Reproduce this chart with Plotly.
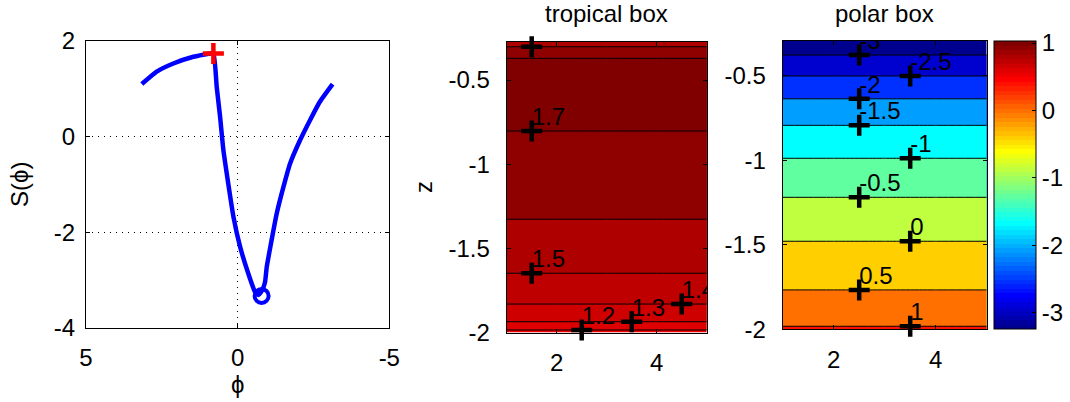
import plotly.graph_objects as go

# ---------------- data ----------------
# left panel: S(phi) trajectory
phi = [3.16, 2.67, 2.12, 1.46, 0.91, 0.80, 0.69, 0.58, 0.47, 0.31, 0.14, -0.08,
       -0.35, -0.57, -0.68, -0.80, -0.90, -0.96, -1.12, -1.29, -1.51, -1.73,
       -2.06, -2.39, -2.71, -3.13]
S_phi = [1.10, 1.36, 1.53, 1.67, 1.74, 1.75, 1.04, 0.42, -0.28, -0.98, -1.67, -2.30,
         -2.86, -3.24, -3.31, -3.22, -3.05, -2.72, -2.16, -1.60, -1.05, -0.56,
         -0.07, 0.35, 0.73, 1.10]
cross_phi, cross_S = [0.80], [1.74]
circle_phi, circle_S = [-0.79], [-3.33]

# box grids (x horizontal, z depth)
x_grid = [1, 2, 3, 4, 5]
trop_z = [-2.000, -1.985, -1.936, -1.831, -1.648, -1.327, -0.803, -0.590, -0.371, -0.302, -0.271]
trop_S = [1.17, 1.20, 1.30, 1.40, 1.50, 1.60, 1.70, 1.76, 1.70, 1.60, 1.55]
polar_z = [-2.000, -1.982, -1.767, -1.479, -1.219, -0.988, -0.793, -0.636, -0.501, -0.377, -0.294]
polar_S = [1.03, 1.00, 0.50, 0.00, -0.50, -1.00, -1.50, -2.00, -2.50, -3.00, -3.24]

# contour labels
trop_lab_x = [1.5, 1.5, 1.5, 2.5, 3.5, 4.5]
trop_lab_z = [-0.302, -0.803, -1.648, -1.985, -1.936, -1.831]
trop_lab_t = ["1.6", "1.7", "1.5", "1.2", "1.3", "1.4"]
polar_lab_x = [2.5, 3.5, 2.5, 2.5, 3.5, 2.5, 3.5, 2.5, 3.5]
polar_lab_z = [-0.377, -0.501, -0.636, -0.793, -0.988, -1.219, -1.479, -1.767, -1.982]
polar_lab_t = ["-3", "-2.5", "-2", "-1.5", "-1", "-0.5", "0", "0.5", "1"]

# tick labels
left_xticks = [5, 0, -5]
left_xtext = ["5", "0", "-5"]
left_yticks = [-4, -2, 0, 2]
left_ytext = ["-4", "-2", "0", "2"]
box_xticks = [2, 4]
box_xtext = ["2", "4"]
box_yticks = [-2, -1.5, -1, -0.5]
box_ytext = ["-2", "-1.5", "-1", "-0.5"]
cbar_ticks = [-3, -2, -1, 0, 1]
cbar_text = ["-3", "-2", "-1", "0", "1"]
cbar_lim = [-3.24, 1.03]

# ---------------- styles ----------------
FONT = "Liberation Sans, Arial, Helvetica, sans-serif"
FS = 24
W, H = 1070, 402

trop_colors = ["rgb(239,0,0)", "rgb(223,0,0)", "rgb(207,0,0)", "rgb(191,0,0)",
               "rgb(175,0,0)", "rgb(143,0,0)", "rgb(128,0,0)"]
polar_colors = ["rgb(0,0,143)", "rgb(0,0,207)", "rgb(0,48,255)", "rgb(0,159,255)",
                "rgb(0,255,255)", "rgb(96,255,159)", "rgb(191,255,64)",
                "rgb(255,207,0)", "rgb(255,112,0)", "rgb(255,16,0)"]


def band_scale(cols):
    n = len(cols) - 1
    return [[i / n, c] for i, c in enumerate(cols)]


def matlab_jet(n=64):
    m = n // 4
    u = [j / m for j in range(1, m + 1)] + [1.0] * (m - 1) + [j / m for j in range(m, 0, -1)]
    r = [0.0] * n; g = [0.0] * n; b = [0.0] * n
    for j in range(len(u)):
        gi = m // 2 + j          # 0-based row
        ri = gi + m
        bi = gi - m
        if gi < n: g[gi] = u[j]
        if ri < n: r[ri] = u[j]
        if 0 <= bi < n: b[bi] = u[j]
    out = []
    for i in range(n):
        c = "rgb(%d,%d,%d)" % (round(r[i] * 255), round(g[i] * 255), round(b[i] * 255))
        out.append([i / n, c])
        out.append([(i + 1) / n, c])
    return out


def px_x(p):
    return p / W


def px_y(p):
    return (H - p) / H


fig = go.Figure()

# left panel
fig.add_trace(go.Scatter(x=phi, y=S_phi, mode="lines", xaxis="x", yaxis="y",
                         line=dict(color="rgb(0,0,255)", width=4.5, shape="spline", smoothing=0.5),
                         showlegend=False))
fig.add_trace(go.Scatter(x=circle_phi, y=circle_S, mode="markers", xaxis="x", yaxis="y",
                         marker=dict(symbol="circle-open", size=14, color="rgb(0,0,255)",
                                     line=dict(width=4, color="rgb(0,0,255)")),
                         showlegend=False, cliponaxis=False))
fig.add_trace(go.Scatter(x=cross_phi, y=cross_S, mode="markers", xaxis="x", yaxis="y",
                         marker=dict(symbol="cross-thin", size=15,
                                     line=dict(width=4.5, color="rgb(255,0,0)")),
                         showlegend=False, cliponaxis=False))

# tropical box
fig.add_trace(go.Contour(x=x_grid, y=trop_z, z=[[v] * len(x_grid) for v in trop_S],
                         xaxis="x2", yaxis="y2", autocontour=False,
                         contours=dict(start=1.2, end=1.7, size=0.1, coloring="fill"),
                         colorscale=band_scale(trop_colors), showscale=False,
                         line=dict(color="black", width=1, smoothing=0), hoverinfo="skip"))
# polar box
fig.add_trace(go.Contour(x=x_grid, y=polar_z, z=[[v] * len(x_grid) for v in polar_S],
                         xaxis="x3", yaxis="y3", autocontour=False,
                         contours=dict(start=-3, end=1, size=0.5, coloring="fill"),
                         colorscale=band_scale(polar_colors), showscale=False,
                         line=dict(color="black", width=1, smoothing=0), hoverinfo="skip"))

# contour labels: crosses (not clipped) + text (clipped)
for xa, ya, lx, lz, lt in [("x2", "y2", trop_lab_x, trop_lab_z, trop_lab_t),
                            ("x3", "y3", polar_lab_x, polar_lab_z, polar_lab_t)]:
    fig.add_trace(go.Scatter(x=lx, y=lz, mode="markers", xaxis=xa, yaxis=ya,
                             marker=dict(symbol="cross-thin", size=15,
                                         line=dict(width=4.5, color="black")),
                             showlegend=False, cliponaxis=False))
    fig.add_trace(go.Scatter(x=lx, y=lz, mode="text", text=lt, textposition="top right",
                             xaxis=xa, yaxis=ya, textfont=dict(family=FONT, size=FS, color="black"),
                             showlegend=False, cliponaxis=True))

# colorbar carrier
fig.add_trace(go.Scatter(x=[3, 3], y=[-9, -9], mode="markers", xaxis="x3", yaxis="y3",
                         marker=dict(color=cbar_lim, colorscale=matlab_jet(64),
                                     cmin=cbar_lim[0], cmax=cbar_lim[1], showscale=True, size=1,
                                     colorbar=dict(x=px_x(994.3), xanchor="left", xpad=0,
                                                   y=px_y(185), yanchor="middle", ypad=0,
                                                   len=288 / H, lenmode="fraction",
                                                   thickness=42, thicknessmode="pixels",
                                                   outlinewidth=1, outlinecolor="black",
                                                   ticks="inside", ticklen=4, tickcolor="black",
                                                   tickvals=cbar_ticks, ticktext=cbar_text,
                                                   tickfont=dict(family=FONT, size=FS, color="black"))),
                         showlegend=False, cliponaxis=True, hoverinfo="skip"))

axis_common = dict(showline=True, linecolor="black", linewidth=1, mirror="ticks",
                   ticks="inside", ticklen=4, tickcolor="black", zeroline=False,
                   tickfont=dict(family=FONT, size=FS, color="black"))

fig.update_layout(
    width=W, height=H, margin=dict(l=0, r=0, t=0, b=0, autoexpand=False),
    paper_bgcolor="white", plot_bgcolor="white", showlegend=False,
    xaxis=dict(axis_common, domain=[px_x(86), px_x(389.3)], range=[5, -5],
               tickvals=left_xticks, ticktext=left_xtext, showgrid=True,
               gridcolor="black", gridwidth=1, griddash="1px,5px", anchor="y",
               ticklabelstandoff=8),
    yaxis=dict(axis_common, domain=[px_y(328), px_y(41)], range=[-4, 2],
               tickvals=left_yticks, ticktext=left_ytext, showgrid=True,
               gridcolor="black", gridwidth=1, griddash="1px,5px", anchor="x",
               ticklabelstandoff=5),
    xaxis2=dict(axis_common, domain=[px_x(506.7), px_x(706.7)], range=[1, 5],
                tickvals=box_xticks, ticktext=box_xtext, showgrid=False, anchor="y2",
                ticklabelstandoff=9),
    yaxis2=dict(axis_common, domain=[px_y(332.5), px_y(41.5)], range=[-2, -0.271],
                tickvals=box_yticks, ticktext=box_ytext, showgrid=False, anchor="x2",
                ticklabelstandoff=11),
    xaxis3=dict(axis_common, domain=[px_x(782.7), px_x(986.7)], range=[1, 5],
                tickvals=box_xticks, ticktext=box_xtext, showgrid=False, anchor="y3",
                ticklabelstandoff=9),
    yaxis3=dict(axis_common, domain=[px_y(329.3), px_y(41)], range=[-2, -0.294],
                tickvals=box_yticks, ticktext=box_ytext, showgrid=False, anchor="x3",
                ticklabelstandoff=11),
)

ann_font = dict(family=FONT, size=FS, color="black")
annotations = [
    dict(text="ϕ", x=px_x(237.7), y=px_y(384), xanchor="center", yanchor="middle"),
    dict(text="S(ϕ)", x=px_x(20), y=px_y(185), xanchor="center", yanchor="middle", textangle=-90),
    dict(text="z", x=px_x(423), y=px_y(187), xanchor="center", yanchor="middle", textangle=-90),
    dict(text="tropical box", x=px_x(606.7), y=px_y(14), xanchor="center", yanchor="middle"),
    dict(text="polar box", x=px_x(884.7), y=px_y(14), xanchor="center", yanchor="middle"),
]
for a in annotations:
    a.update(xref="paper", yref="paper", showarrow=False, font=ann_font)
fig.update_layout(annotations=annotations)

fig.write_html("out.html")
